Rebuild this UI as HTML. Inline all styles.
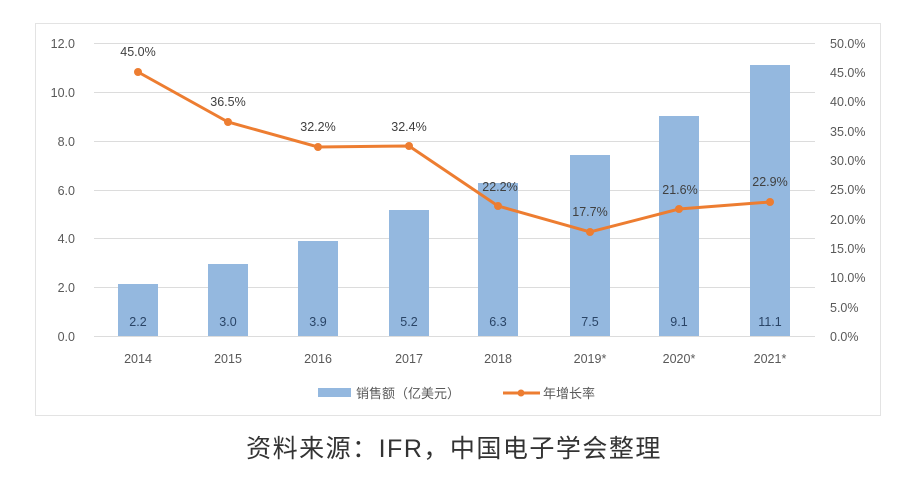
<!DOCTYPE html>
<html><head><meta charset="utf-8"><style>
body{margin:0;background:#fff;width:919px;height:480px;overflow:hidden}
svg{display:block;font-family:"Liberation Sans","Noto Sans CJK SC",sans-serif}
</style></head><body>
<svg width="919" height="480" viewBox="0 0 919 480">
<rect x="35.5" y="23.5" width="845" height="392" fill="#fff" stroke="#e3e3e3"/>
<g stroke="#dcdcdc" stroke-width="1">
<line x1="94" x2="815" y1="43.5" y2="43.5"/><line x1="94" x2="815" y1="92.5" y2="92.5"/>
<line x1="94" x2="815" y1="141.5" y2="141.5"/><line x1="94" x2="815" y1="190.5" y2="190.5"/>
<line x1="94" x2="815" y1="238.5" y2="238.5"/><line x1="94" x2="815" y1="287.5" y2="287.5"/>
<line x1="94" x2="815" y1="336.5" y2="336.5"/>
</g>
<g font-size="12.5" fill="#595959" text-anchor="end">
<text x="75" y="48">12.0</text><text x="75" y="97">10.0</text><text x="75" y="146">8.0</text>
<text x="75" y="195">6.0</text><text x="75" y="243">4.0</text><text x="75" y="292">2.0</text><text x="75" y="341">0.0</text>
</g>
<g font-size="12.5" fill="#595959">
<text x="830" y="48">50.0%</text><text x="830" y="77">45.0%</text><text x="830" y="106">40.0%</text>
<text x="830" y="136">35.0%</text><text x="830" y="165">30.0%</text><text x="830" y="194">25.0%</text>
<text x="830" y="224">20.0%</text><text x="830" y="253">15.0%</text><text x="830" y="282">10.0%</text>
<text x="830" y="312">5.0%</text><text x="830" y="341">0.0%</text>
</g>
<g fill="#94b8df">
<rect x="118" y="284" width="40" height="52"/><rect x="208" y="264" width="40" height="72"/>
<rect x="298" y="241" width="40" height="95"/><rect x="389" y="210" width="40" height="126"/>
<rect x="478" y="183" width="40" height="153"/><rect x="570" y="155" width="40" height="181"/>
<rect x="659" y="116" width="40" height="220"/><rect x="750" y="65" width="40" height="271"/>
</g>
<g font-size="12.5" fill="#2a4466" text-anchor="middle">
<text x="138" y="326">2.2</text><text x="228" y="326">3.0</text><text x="318" y="326">3.9</text>
<text x="409" y="326">5.2</text><text x="498" y="326">6.3</text><text x="590" y="326">7.5</text>
<text x="679" y="326">9.1</text><text x="770" y="326">11.1</text>
</g>
<polyline fill="none" stroke="#ed7d31" stroke-width="3" points="138,72 228,122 318,147 409,146 498,206 590,232 679,209 770,202"/>
<g fill="#ed7d31">
<circle cx="138" cy="72" r="4"/><circle cx="228" cy="122" r="4"/><circle cx="318" cy="147" r="4"/>
<circle cx="409" cy="146" r="4"/><circle cx="498" cy="206" r="4"/><circle cx="590" cy="232" r="4"/>
<circle cx="679" cy="209" r="4"/><circle cx="770" cy="202" r="4"/>
</g>
<g font-size="12.5" fill="#404040" text-anchor="middle">
<text x="138" y="56">45.0%</text><text x="228" y="106">36.5%</text><text x="318" y="131">32.2%</text>
<text x="409" y="131">32.4%</text><text x="500" y="191">22.2%</text><text x="590" y="216">17.7%</text>
<text x="680" y="194">21.6%</text><text x="770" y="186">22.9%</text>
</g>
<g font-size="12.5" fill="#595959" text-anchor="middle">
<text x="138" y="363">2014</text><text x="228" y="363">2015</text><text x="318" y="363">2016</text>
<text x="409" y="363">2017</text><text x="498" y="363">2018</text><text x="590" y="363">2019*</text>
<text x="679" y="363">2020*</text><text x="770" y="363">2021*</text>
</g>
<rect x="318" y="388" width="33" height="9" fill="#94b8df"/>
<text x="356" y="398" font-size="13" fill="#595959">销售额（亿美元）</text>
<line x1="503" x2="540" y1="393" y2="393" stroke="#ed7d31" stroke-width="3"/>
<circle cx="521" cy="393" r="3.5" fill="#ed7d31"/>
<text x="543" y="398" font-size="13" fill="#595959">年增长率</text>
<text x="454" y="457" font-size="25" letter-spacing="1.5" fill="#333" text-anchor="middle">资料来源：IFR，中国电子学会整理</text>
</svg>
</body></html>
